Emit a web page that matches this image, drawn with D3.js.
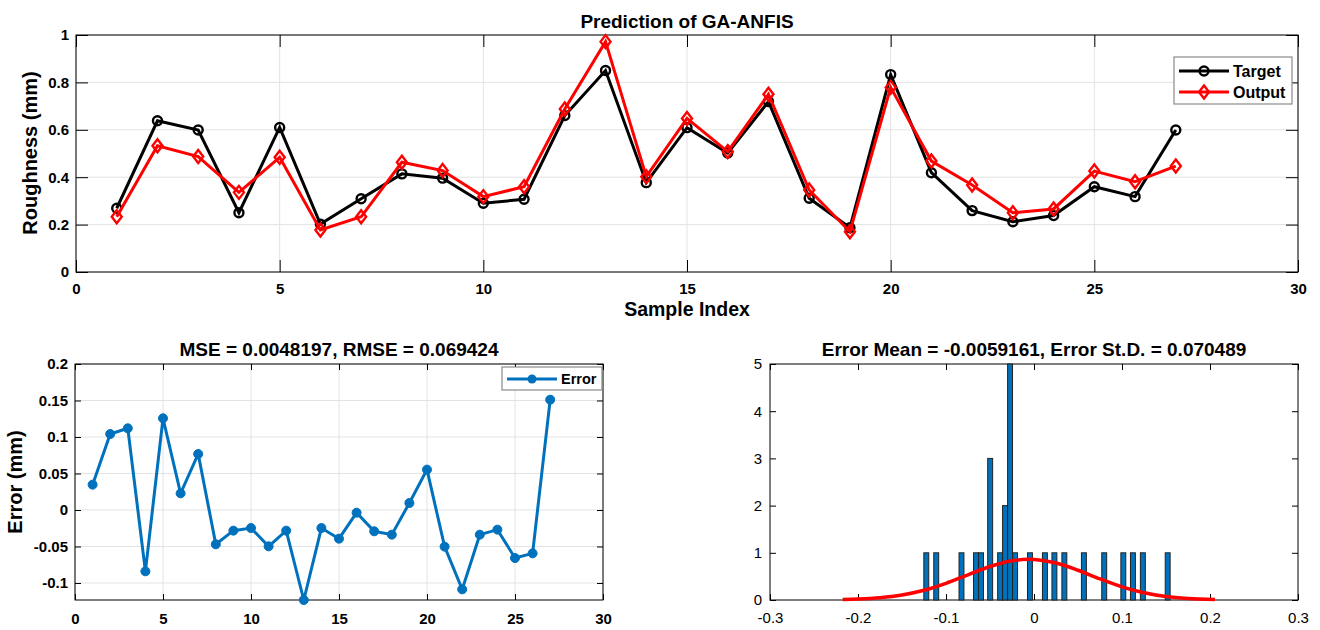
<!DOCTYPE html>
<html>
<head>
<meta charset="utf-8">
<script src="https://cdn.jsdelivr.net/npm/d3@7"></script>
<style>
  body { margin: 0; background: #fff; }
  svg { font-family: "Liberation Sans", Arial, Helvetica, sans-serif; }
</style>
</head>
<body>
<svg id="chart" width="1320" height="630"></svg>
<script>
// ---- data ----
const sampleIndex = [1, 2, 3, 4, 5, 6, 7, 8, 9, 10, 11, 12, 13, 14, 15, 16, 17, 18, 19, 20, 21, 22, 23, 24, 25, 26, 27];
const target = [0.269, 0.638, 0.599, 0.250, 0.610, 0.202, 0.309, 0.414, 0.396, 0.290, 0.307, 0.660, 0.850,
  0.377, 0.609, 0.502, 0.719, 0.311, 0.187, 0.833, 0.419, 0.259, 0.212, 0.238, 0.360, 0.318, 0.599];
const output = [0.233, 0.533, 0.487, 0.336, 0.484, 0.177, 0.233, 0.463, 0.428, 0.318, 0.360, 0.688, 0.972,
  0.402, 0.648, 0.508, 0.750, 0.346, 0.170, 0.779, 0.468, 0.367, 0.250, 0.266, 0.426, 0.381, 0.447];
const errors = [0.0347, 0.1041, 0.1119, -0.0840, 0.1256, 0.0228, 0.0767, -0.0470, -0.0283, -0.0247, -0.0498,
  -0.0283, -0.1233, -0.0247, -0.0393, -0.0037, -0.0292, -0.0338, 0.0096, 0.0553, -0.0502, -0.1087, -0.0338,
  -0.0269, -0.0658, -0.0594, 0.1511];

// histogram bins (left edge, count) and fitted normal curve
const binWidth = 0.0056;
const binLeft = [-0.1252, -0.1139, -0.0852, -0.0687, -0.0630, -0.0526, -0.0413, -0.0357, -0.0300, -0.0243,
  -0.0074, 0.0096, 0.0204, 0.0317, 0.0539, 0.0770, 0.0987, 0.1096, 0.1209, 0.1491];
const binCount = [1, 1, 1, 1, 1, 3, 1, 2, 5, 1, 1, 1, 1, 1, 1, 1, 1, 1, 1, 1];
const fitX = [-0.2174, -0.2, -0.175, -0.15, -0.125, -0.1, -0.075, -0.05, -0.025, -0.006, 0, 0.025, 0.05,
  0.075, 0.1, 0.125, 0.15, 0.175, 0.2056];
const fitY = [0.010, 0.020, 0.049, 0.107, 0.207, 0.354, 0.534, 0.710, 0.832, 0.863, 0.860, 0.784, 0.630,
  0.447, 0.279, 0.154, 0.075, 0.032, 0.010];

// axis ticks / limits
const sampleTicks = [0, 5, 10, 15, 20, 25, 30];
const roughTicks = [0, 0.2, 0.4, 0.6, 0.8, 1];
const errTicks = [-0.1, -0.05, 0, 0.05, 0.1, 0.15, 0.2];
const errLimits = [-0.1233, 0.2];
const histXTicks = [-0.3, -0.2, -0.1, 0, 0.1, 0.2, 0.3];
const histYTicks = [0, 1, 2, 3, 4, 5];

const titles = {
  top: 'Prediction of GA-ANFIS',
  err: 'MSE = 0.0048197, RMSE = 0.069424',
  hist: 'Error Mean = -0.0059161, Error St.D. = 0.070489'
};

const blue = '#0072BD';
const svg = d3.select('#chart');
const fmt = (d) => String(+d.toFixed(2));

// MATLAB-like boxed axes: inward ticks on all four sides, optional grid.
function boxAxes(x, y, xTicks, yTicks, o) {
  const g = svg.append('g');
  const [x0, x1] = x.range();
  const [y0, y1] = y.range();
  if (o.grid) {
    g.append('g').selectAll('line').data(xTicks).enter().append('line')
      .attr('x1', (d) => x(d)).attr('x2', (d) => x(d)).attr('y1', y0).attr('y2', y1)
      .attr('stroke', '#e3e3e3').attr('stroke-width', 1);
    g.append('g').selectAll('line').data(yTicks).enter().append('line')
      .attr('y1', (d) => y(d)).attr('y2', (d) => y(d)).attr('x1', x0).attr('x2', x1)
      .attr('stroke', '#e3e3e3').attr('stroke-width', 1);
  }
  const style = (sel, labels) => {
    sel.select('.domain').remove();
    sel.selectAll('line').attr('stroke', '#000').attr('stroke-width', 1);
    sel.selectAll('text').attr('fill', '#000').style('font-size', o.fontSize + 'px')
      .style('font-weight', o.bold ? 'bold' : 'normal');
    if (!labels) sel.selectAll('text').remove();
  };
  g.append('g').attr('transform', `translate(0,${y0})`)
    .call(d3.axisBottom(x).tickValues(xTicks).tickSize(-o.tick).tickSizeOuter(0).tickPadding(o.padX).tickFormat(fmt))
    .call((s) => style(s, true));
  g.append('g').attr('transform', `translate(0,${y1})`)
    .call(d3.axisTop(x).tickValues(xTicks).tickSize(-o.tick).tickSizeOuter(0))
    .call((s) => style(s, false));
  g.append('g').attr('transform', `translate(${x0},0)`)
    .call(d3.axisLeft(y).tickValues(yTicks).tickSize(-o.tick).tickSizeOuter(0).tickPadding(o.padY).tickFormat(fmt))
    .call((s) => style(s, true));
  g.append('g').attr('transform', `translate(${x1},0)`)
    .call(d3.axisRight(y).tickValues(yTicks).tickSize(-o.tick).tickSizeOuter(0))
    .call((s) => style(s, false));
  g.append('rect').attr('x', x0).attr('y', y1).attr('width', x1 - x0).attr('height', y0 - y1)
    .attr('fill', 'none').attr('stroke', '#000').attr('stroke-width', 1);
  return g;
}

function title(text, x, y) {
  svg.append('text').attr('x', x).attr('y', y).attr('text-anchor', 'middle')
    .style('font-size', '19px').style('font-weight', 'bold').text(text);
}

const diamond = 'M0,-6.5L5,0L0,6.5L-5,0Z';

// ---------- top: target vs output ----------
const xTop = d3.scaleLinear().domain([0, 30]).range([76, 1298]);
const yTop = d3.scaleLinear().domain([0, 1]).range([272, 35]);
boxAxes(xTop, yTop, sampleTicks, roughTicks, { grid: true, tick: 12, padX: 11, padY: 7, fontSize: 15, bold: true });

const lineTop = (vals) => d3.line().x((d, i) => xTop(sampleIndex[i])).y((d) => yTop(d))(vals);
svg.append('path').attr('d', lineTop(target)).attr('fill', 'none').attr('stroke', '#000').attr('stroke-width', 3);
svg.append('g').selectAll('circle').data(target).enter().append('circle')
  .attr('cx', (d, i) => xTop(sampleIndex[i])).attr('cy', (d) => yTop(d)).attr('r', 4.5)
  .attr('fill', 'none').attr('stroke', '#000').attr('stroke-width', 2.4);
svg.append('path').attr('d', lineTop(output)).attr('fill', 'none').attr('stroke', '#f00').attr('stroke-width', 3);
svg.append('g').selectAll('path').data(output).enter().append('path')
  .attr('d', diamond)
  .attr('transform', (d, i) => `translate(${xTop(sampleIndex[i])},${yTop(d)})`)
  .attr('fill', 'none').attr('stroke', '#f00').attr('stroke-width', 2.4);

title(titles.top, 687, 28);
svg.append('text').attr('x', 687).attr('y', 316).attr('text-anchor', 'middle')
  .style('font-size', '19.5px').style('font-weight', 'bold').text('Sample Index');
svg.append('text').attr('transform', 'translate(37,153) rotate(-90)').attr('text-anchor', 'middle')
  .style('font-size', '20px').style('font-weight', 'bold').text('Roughness (mm)');

// legend
const lg = svg.append('g');
lg.append('rect').attr('x', 1174).attr('y', 57).attr('width', 118).attr('height', 47)
  .attr('fill', '#fff').attr('stroke', '#8a8a8a').attr('stroke-width', 1.2);
lg.append('line').attr('x1', 1179).attr('x2', 1229).attr('y1', 71).attr('y2', 71).attr('stroke', '#000').attr('stroke-width', 3);
lg.append('circle').attr('cx', 1204).attr('cy', 71).attr('r', 4.5).attr('fill', 'none').attr('stroke', '#000').attr('stroke-width', 2.4);
lg.append('line').attr('x1', 1179).attr('x2', 1229).attr('y1', 92).attr('y2', 92).attr('stroke', '#f00').attr('stroke-width', 3);
lg.append('path').attr('d', diamond).attr('transform', 'translate(1204,92)').attr('fill', 'none').attr('stroke', '#f00').attr('stroke-width', 2.4);
lg.append('text').attr('x', 1233).attr('y', 77).style('font-size', '16px').style('font-weight', 'bold').text('Target');
lg.append('text').attr('x', 1233).attr('y', 98).style('font-size', '16px').style('font-weight', 'bold').text('Output');

// ---------- bottom-left: error ----------
const xErr = d3.scaleLinear().domain([0, 30]).range([75, 603]);
const yErr = d3.scaleLinear().domain(errLimits).range([600, 364]);
boxAxes(xErr, yErr, sampleTicks, errTicks, { grid: true, tick: 6, padX: 13, padY: 7, fontSize: 15, bold: true });

svg.append('path')
  .attr('d', d3.line().x((d, i) => xErr(sampleIndex[i])).y((d) => yErr(d))(errors))
  .attr('fill', 'none').attr('stroke', blue).attr('stroke-width', 3);
svg.append('g').selectAll('circle').data(errors).enter().append('circle')
  .attr('cx', (d, i) => xErr(sampleIndex[i])).attr('cy', (d) => yErr(d)).attr('r', 4.5)
  .attr('fill', blue).attr('stroke', blue).attr('stroke-width', 1);

title(titles.err, 339, 356);
svg.append('text').attr('transform', 'translate(22,482) rotate(-90)').attr('text-anchor', 'middle')
  .style('font-size', '20px').style('font-weight', 'bold').text('Error (mm)');

const le = svg.append('g');
le.append('rect').attr('x', 502).attr('y', 367).attr('width', 100).attr('height', 23)
  .attr('fill', '#fff').attr('stroke', '#8a8a8a').attr('stroke-width', 1.2);
le.append('line').attr('x1', 507).attr('x2', 557).attr('y1', 379).attr('y2', 379).attr('stroke', blue).attr('stroke-width', 3);
le.append('circle').attr('cx', 532).attr('cy', 379).attr('r', 4.5).attr('fill', blue);
le.append('text').attr('x', 561).attr('y', 384).style('font-size', '14.5px').style('font-weight', 'bold').text('Error');

// ---------- bottom-right: histogram ----------
const xHist = d3.scaleLinear().domain([-0.3, 0.3]).range([770, 1298]);
const yHist = d3.scaleLinear().domain([0, 5]).range([600, 364]);
boxAxes(xHist, yHist, histXTicks, histYTicks, { grid: false, tick: 6, padX: 12, padY: 8, fontSize: 15, bold: false });

svg.append('g').selectAll('rect').data(binLeft).enter().append('rect')
  .attr('x', (d) => xHist(d))
  .attr('y', (d, i) => yHist(binCount[i]))
  .attr('width', (d) => xHist(d + binWidth) - xHist(d))
  .attr('height', (d, i) => yHist(0) - yHist(binCount[i]))
  .attr('fill', blue).attr('stroke', '#222').attr('stroke-width', 1);

svg.append('path')
  .attr('d', d3.line().curve(d3.curveMonotoneX).x((d) => xHist(d)).y((d, i) => yHist(fitY[i]))(fitX))
  .attr('fill', 'none').attr('stroke', '#f00').attr('stroke-width', 3.5);

title(titles.hist, 1034, 356);
</script>
</body>
</html>
